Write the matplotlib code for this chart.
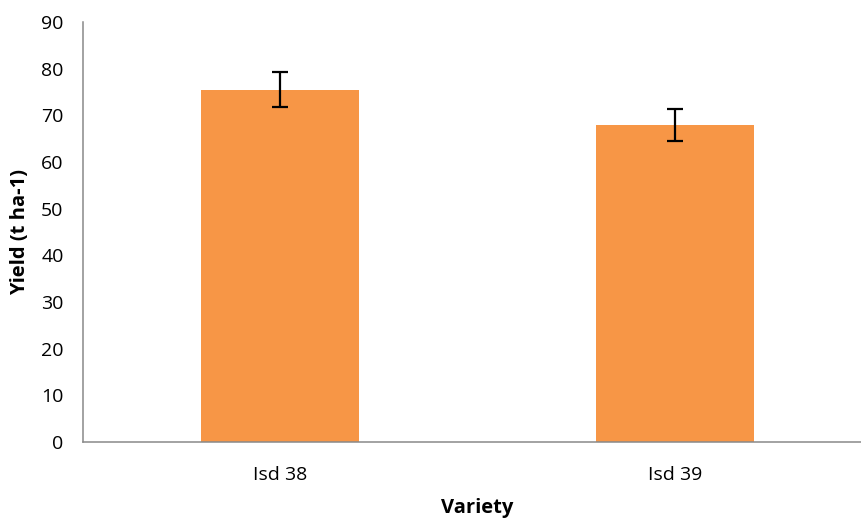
import matplotlib
matplotlib.use("Agg")
import matplotlib.pyplot as plt
import numpy as np

varieties = ["Isd 38", "Isd 39"]
yield_mean = [75.5, 67.9]
yield_err = [3.8, 3.4]

plt.rcParams["font.family"] = ["Open Sans", "DejaVu Sans"]

fig = plt.figure(figsize=(8.61, 5.21), dpi=100)
ax = fig.add_axes([83 / 861, 1 - 442 / 521, (872 - 83) / 861, (442 - 22) / 521])

x = np.arange(len(varieties))
ax.bar(x, yield_mean, width=0.4, color="#F79646", zorder=2)
ax.errorbar(x, yield_mean, yerr=yield_err, fmt="none", ecolor="black",
            elinewidth=1.6, capsize=6, capthick=1.6, zorder=3)

ax.set_xlim(-0.5, 1.5)
ax.set_ylim(0, 90)
ax.set_yticks(np.arange(0, 91, 10))
ax.set_xticks(x)
ax.set_xticklabels(varieties)

for side in ["top", "right"]:
    ax.spines[side].set_visible(False)
for side in ["left", "bottom"]:
    ax.spines[side].set_color("#898989")
    ax.spines[side].set_linewidth(1.1)

ax.tick_params(axis="both", length=0, labelsize=14, colors="black")
ax.tick_params(axis="y", pad=14)
ax.tick_params(axis="x", pad=17)

ax.set_xlabel("Variety", fontsize=14.5, fontweight="bold", labelpad=10)
ax.set_ylabel("Yield (t ha-1)", fontsize=14.5, fontweight="bold", labelpad=8)

fig.savefig("out.png", dpi=100)
